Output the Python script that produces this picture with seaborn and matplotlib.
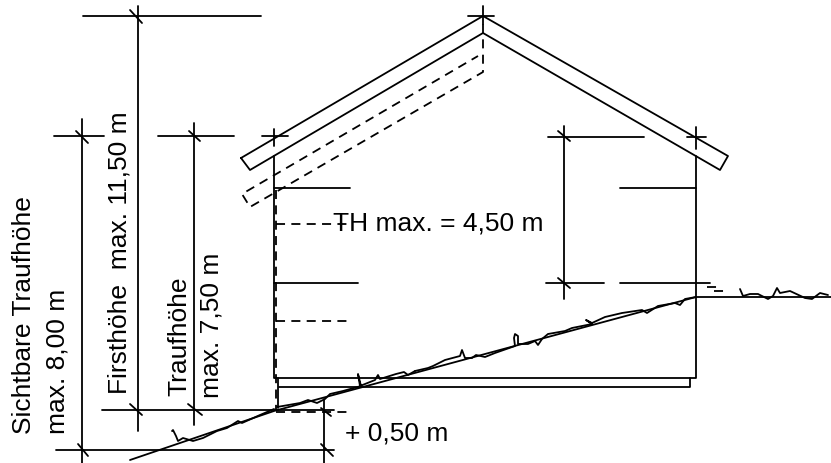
import pandas as pd
import seaborn as sns
import matplotlib.pyplot as plt

sns.set_theme(style='white')
plt.rcParams['font.family'] = ['Liberation Sans', 'DejaVu Sans']

# all coordinates are pixels of the original drawing, y pointing down
roof_solid = [
    [(241, 158), (483, 16), (728, 156), (720, 170), (483, 33), (250, 170), (241, 158)],
]
walls_solid = [
    [(274, 156), (274, 378), (696, 378), (696, 156)],
    [(278, 378), (278, 408)],
    [(279, 387), (690, 387), (690, 378)],
]
floors_solid = [
    [(274, 188), (350, 188)],
    [(274, 283), (358, 283)],
    [(620, 188), (696, 188)],
    [(620, 283), (710, 283)],
]
dims_solid = [
    [(83, 16), (261, 16)],
    [(138, 6), (138, 431)],
    [(130, 10), (142, 23)],
    [(54, 136), (104, 136)],
    [(82, 119), (82, 463)],
    [(76, 131), (88, 143)],
    [(158, 136), (234, 136)],
    [(194, 123), (194, 425)],
    [(189, 131), (200, 141)],
    [(262, 136), (288, 136)],
    [(274, 129), (274, 146)],
    [(468, 16), (494, 16)],
    [(483, 6), (483, 24)],
    [(548, 137), (644, 137)],
    [(564, 126), (564, 299)],
    [(558, 131), (570, 141)],
    [(546, 283), (604, 283)],
    [(558, 278), (570, 288)],
    [(687, 137), (706, 137)],
    [(696, 127), (696, 149)],
    [(102, 410), (334, 410)],
    [(130, 404), (142, 415)],
    [(188, 404), (202, 415)],
    [(56, 450), (334, 450)],
    [(324, 399), (324, 463)],
    [(78, 444), (88, 456)],
    [(321, 444), (333, 456)],
    [(321, 408), (331, 416)],
]
ground_solid = [
    [(130, 460), (274, 411), (696, 297), (831, 297)],
    [(172, 431), (173, 430), (176, 436), (178, 441), (183, 438), (193, 441), (203, 438),
     (217, 431), (227, 428), (238, 421), (242, 423), (260, 415), (274, 409)],
    [(277, 407), (300, 403), (308, 400), (317, 403), (325, 399), (330, 394), (343, 391),
     (361, 386), (358, 374), (360, 386), (375, 380), (378, 375), (380, 379), (396, 374),
     (404, 372), (408, 375), (415, 371)],
    [(415, 371), (428, 368), (433, 366), (445, 360), (460, 356), (462, 350), (465, 358),
     (472, 358), (476, 355), (485, 357), (495, 353), (515, 346), (514, 338), (515, 334),
     (518, 336), (518, 344), (528, 344), (535, 341), (538, 345), (542, 339), (548, 334),
     (565, 331), (572, 328), (592, 324), (586, 320), (592, 323), (605, 317), (622, 313),
     (642, 310), (647, 313), (658, 306), (675, 303), (680, 305), (685, 299), (696, 297)],
    [(740, 289), (743, 296), (750, 294), (758, 294), (768, 299), (773, 296), (777, 288),
     (780, 293), (790, 291), (805, 298), (812, 299), (820, 293), (828, 295)],
]
dashed_lines = [
    [(483, 24), (483, 72), (250, 207), (242, 194), (478, 56)],
    [(276, 190), (276, 410)],
    [(276, 224), (352, 224)],
    [(276, 321), (352, 321)],
    [(276, 412), (352, 412)],
    [(707, 287), (718, 287)],
    [(714, 291), (726, 291)],
]
labels = [
    ('Sichtbare Traufhöhe', 24, 434, 90),
    ('max. 8,00 m', 57, 434, 90),
    ('Firsthöhe  max. 11,50 m', 119, 394, 90),
    ('Traufhöhe', 179, 396, 90),
    ('max. 7,50 m', 212, 398, 90),
    ('TH max. = 4,50 m', 333, 224, 0),
    ('+ 0,50 m', 345, 434, 0),
]


def to_frame(lines):
    rows = []
    for i, line in enumerate(lines):
        for x, y in line:
            rows.append({'seg': i, 'x': x, 'y': y})
    return pd.DataFrame(rows)


fig = plt.figure(figsize=(8.31, 4.63), dpi=100)
ax = fig.add_axes([0, 0, 1, 1])

solid = to_frame(roof_solid + walls_solid + floors_solid + dims_solid + ground_solid)
sns.lineplot(data=solid, x='x', y='y', units='seg', estimator=None, sort=False,
             color='black', linewidth=1.3, ax=ax)
dashed = to_frame(dashed_lines)
sns.lineplot(data=dashed, x='x', y='y', units='seg', estimator=None, sort=False,
             color='black', linewidth=1.3, linestyle=(0, (5, 3.5)), ax=ax)

for text, x, y, rot in labels:
    if rot == 90:
        ax.text(x, y, text, rotation=90, ha='center', va='bottom', fontsize=19, color='black')
    else:
        ax.text(x, y, text, ha='left', va='center', fontsize=19, color='black')

ax.set_xlim(0, 831)
ax.set_ylim(463, 0)
ax.axis('off')
fig.savefig('out.png', dpi=100)
